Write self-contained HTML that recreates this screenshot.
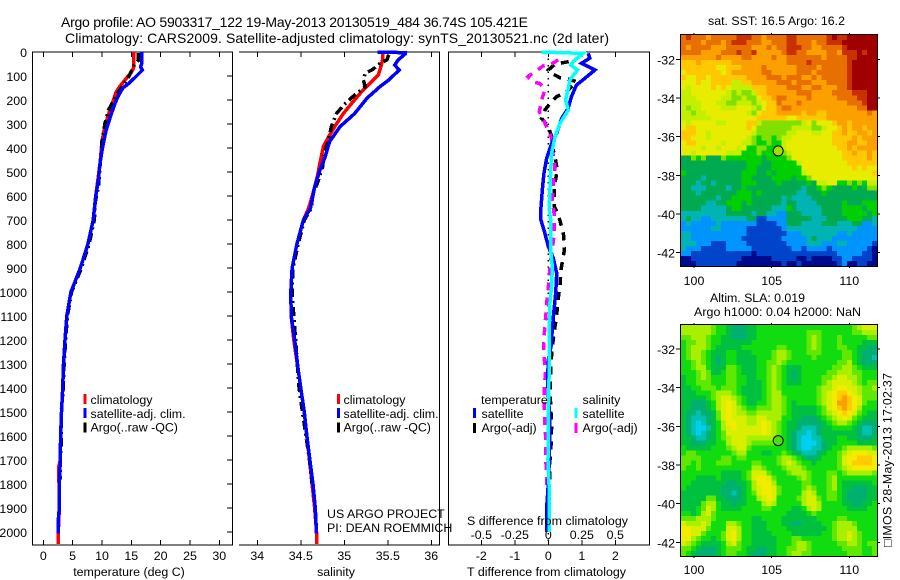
<!DOCTYPE html>
<html>
<head>
<meta charset="utf-8">
<title>Argo profile</title>
<style>
html,body{margin:0;padding:0;background:#fff;}
svg{display:block;}
text{font-family:"Liberation Sans",sans-serif;font-size:12.4px;fill:#000;}
</style>
</head>
<body>
<svg id="chart" xmlns="http://www.w3.org/2000/svg" width="900" height="580" viewBox="0 0 900 580">
<rect width="900" height="580" fill="#fff"/>
<g id="panels"></g>
<g id="labels">
<text x="61" y="27" style="font-size:14px" textLength="467">Argo profile: AO 5903317_122 19-May-2013 20130519_484 36.74S 105.421E</text>
<text x="65" y="43" style="font-size:14px" textLength="544">Climatology: CARS2009. Satellite-adjusted climatology: synTS_20130521.nc (2d later)</text>
<text x="129" y="576" text-anchor="middle">temperature (deg C)</text>
<text x="336" y="576" text-anchor="middle">salinity</text>
<text x="467" y="576" textLength="159">T difference from climatology</text>
<text x="467" y="525" textLength="161">S difference from climatology</text>
<text x="327" y="518">US ARGO PROJECT</text>
<text x="327" y="532">PI: DEAN ROEMMICH</text>
<text x="708" y="25" textLength="137">sat. SST: 16.5 Argo: 16.2</text>
<text x="710" y="302" textLength="95">Altim. SLA: 0.019</text>
<text x="694" y="316" textLength="167">Argo h1000: 0.04 h2000: NaN</text>
<text transform="translate(891.5,547) rotate(-90)" textLength="174">□IMOS 28-May-2013 17:02:37</text>
</g>
<script>
// ---------- shared depth scale ----------
const depthTicks = [0,100,200,300,400,500,600,700,800,900,1000,1100,1200,1300,1400,1500,1600,1700,1800,1900,2000];

// ---------- temperature panel data ----------
const tempTicks = [0,5,10,15,20,25,30];
const climTempDepth = [0,62,83,111,139,167,201,243,292,340,396,465,542,604,700,800,900,1000,1100,1200,1300,1400,1500,1600,1700,1730,1780,1800,1900,2000,2050];
const climTemp = [15.45,15.45,15.06,14.09,13.18,12.39,11.93,11.36,10.68,10.23,9.94,9.66,9.26,8.92,8.5,7.6,6.3,4.7,4.0,3.7,3.45,3.3,3.1,2.95,2.9,2.6,2.6,2.73,2.73,2.56,2.56];
const satTempDepth = [0,49,62,76,107,132,149,181,215,264,326,396,465,535,604,700,800,900,1000,1100,1200,1300,1400,1500,1600,1700,1800,1900,1950,2005];
const satTemp = [16.76,16.76,16.6,16.88,15.6,14.5,13.6,12.8,12.2,11.5,10.7,10.1,9.66,9.38,8.92,8.5,7.6,6.3,4.7,4.0,3.7,3.45,3.3,3.1,2.95,2.9,2.73,2.73,2.56,2.56];
const argoTempDepth = [4,35,55,110,181,243,299,368,465,562,620,700,800,900,1000,1100,1200,1300,1400,1500,1600,1700,1780];
const argoTemp = [16.2,16.2,15.5,14.4,12.4,11.1,10.5,10.0,9.7,9.4,8.9,8.7,7.8,6.5,4.8,4.1,3.8,3.55,3.4,3.05,3.1,2.9,2.9];

// ---------- salinity panel data ----------
const salTicks = [34,34.5,35,35.5,36];
const salTickLabels = ["34","34.5","35","35.5","36"];
const climSalDepth = [0,33,75,96,124,165,207,256,311,353,394,464,519,589,651,700,800,900,1000,1100,1200,1324,1400,1500,1600,1700,1800,1900,2000,2050];
const climSal = [35.44,35.44,35.41,35.39,35.31,35.2,35.1,34.99,34.89,34.82,34.76,34.72,34.69,34.64,34.59,34.53,34.455,34.4,34.385,34.39,34.42,34.47,34.5,34.54,34.57,34.6,34.63,34.66,34.68,34.68];
const satSalDepth = [0,3,8,33,54,75,114,144,193,256,311,374,436,492,561,651,700,800,900,1000,1100,1200,1324,1400,1500,1600,1700,1800,1900,2005];
const satSal = [35.38,35.7,35.7,35.62,35.58,35.63,35.52,35.41,35.26,35.12,34.95,34.83,34.78,34.72,34.66,34.61,34.53,34.455,34.4,34.385,34.39,34.43,34.47,34.5,34.54,34.57,34.605,34.64,34.667,34.68];
const argoSalDepth = [12,33,47,72,89,117,144,179,214,256,311,367,422,478,547,589,651,700,800,900,1000,1100,1200,1300,1350,1400,1500,1600,1700,1800];
const argoSal = [35.51,35.49,35.41,35.33,35.24,35.22,35.24,35.12,35.01,34.91,34.85,34.82,34.77,34.75,34.69,34.64,34.62,34.54,34.47,34.41,34.4,34.42,34.44,34.46,34.47,34.48,34.52,34.56,34.6,34.63];

// ---------- difference panel data ----------
const diffTempTicks = [-2,-1,0,1,2];
const diffSalTicks = [-0.5,-0.25,0,0.25,0.5];
const diffSalTickLabels = ["-0.5","-0.25","0","0.25","0.5"];
const satDiffTempDepth = [6,26,47,75,110,138,186,235,276,339,381,443,506,575,651,699,755,810,859,921,1005,1074,1157,1227,1282,1366,1500,1550,1700,1800,1900,2000];
const satDiffTemp = [1.19,1.24,0.99,1.39,1.09,0.84,0.69,0.59,0.4,0.25,0.1,-0.05,-0.13,-0.18,-0.22,-0.22,-0.1,0,0.15,0.25,0.22,0.17,0.12,0.08,0,-0.02,0.03,0.05,0.03,0,-0.05,-0.05];
const satDiffSalDepth = [0,6,40,54,75,117,151,200,242,297,353,422,506,575,651,699,824,894,977,1046,1171,1366,1500,1700,1800,2000];
const satDiffSal = [-0.05,0.26,0.186,0.168,0.218,0.161,0.149,0.129,0.149,0.087,0.05,0.025,0.017,0.012,0.007,0.017,0.017,0.03,0.025,0.012,0.007,0.005,0,-0.002,0.005,0.005];
const argoDiffTempDepth = [40,51,75,89,107,114,124,165,186,214,242,276,311,353,394,436,492,561,644,678,755,824,907,970,1025,1095,1164,1227,1296,1407,1560,1640,1700,1780,1850];
const argoDiffTemp = [0.61,0.2,0,0.1,0.35,0.64,0.84,0.54,0.25,0.05,-0.1,-0.2,0,0.1,0.12,0.2,0.27,0.18,0.18,0.3,0.45,0.48,0.38,0.35,0.3,0.25,0.18,0.12,0.08,0.05,0.1,0.08,0.05,0.04,0.03];
const argoDiffSalDepth = [33,54,58,82,103,124,131,158,200,249,283,325,360,408,429,478,547,617,678,755,810,894,949,1012,1074,1143,1213,1275,1338,1400,1500,1600,1680,1740,1830];
const argoDiffSal = [0.074,0.012,-0.037,-0.1,-0.153,-0.119,-0.062,-0.025,-0.05,-0.067,-0.037,0,0.025,0.025,0.037,0.05,0.037,0.03,0.045,0.045,0.032,0.012,0.007,-0.007,-0.015,-0.025,-0.035,-0.03,-0.022,-0.03,-0.03,-0.02,-0.02,-0.015,-0.01];

// ---------- map data ----------
const lonTicks = [100,105,110];
const latTicks = [-32,-34,-36,-38,-40,-42];
const floatLon = [105.42];
const floatLat = [-36.74];
// Colour-band index per map cell, north to south
const sstBands = [
[11,12,11,11,11,10,11,11,11,11,11,12,12,12,11,11,10,11,11,11,11,12,12,11,11,11,11,11,11,12,13,12,12,13,13,13,13,13,13],
[11,11,11,11,10,11,11,11,10,11,12,12,12,11,11,11,10,10,11,11,11,12,12,11,11,11,10,11,11,12,12,12,13,13,13,13,13,13,13],
[11,10,11,11,11,11,10,10,10,11,11,11,11,11,10,10,10,11,10,11,11,12,12,12,11,11,10,10,11,11,11,11,12,13,13,13,13,13,13],
[11,11,11,11,10,10,10,10,11,11,11,12,11,11,12,10,10,10,10,10,11,12,12,11,11,10,10,10,10,11,11,10,12,12,12,13,12,13,13],
[10,10,10,10,10,10,10,11,10,10,10,10,11,11,10,10,10,10,11,10,10,11,11,11,11,11,11,11,10,11,11,11,11,12,12,13,13,13,13],
[9,9,9,10,9,9,9,9,9,9,10,10,10,10,10,10,10,10,10,10,10,11,11,11,11,12,11,11,11,11,11,11,11,12,13,13,13,13,13],
[9,9,9,9,9,9,9,8,8,9,9,9,10,10,10,10,11,10,10,10,10,10,10,11,11,11,11,10,11,11,11,11,11,12,13,13,13,13,13],
[8,9,9,9,9,9,9,9,8,9,10,10,10,10,10,10,11,11,10,10,10,10,10,11,11,11,10,11,11,11,11,11,11,12,13,13,13,13,13],
[9,8,8,9,9,8,9,9,9,9,9,9,9,10,10,10,10,11,11,11,10,11,11,11,10,10,11,10,11,11,11,11,11,12,13,13,13,13,13],
[8,8,8,9,8,8,9,9,9,9,7,7,9,9,10,10,10,10,10,11,11,11,10,11,11,11,10,10,10,11,11,11,11,12,13,13,13,13,13],
[8,7,8,8,8,8,9,8,9,8,7,7,7,7,9,9,9,10,10,10,10,11,11,11,10,10,11,11,10,10,10,11,11,12,13,13,13,13,13],
[7,7,8,8,8,8,8,8,8,7,6,7,6,6,7,9,9,10,10,10,10,10,10,11,11,11,10,10,10,10,11,11,11,11,12,12,12,13,13],
[7,7,7,8,8,8,8,8,7,7,6,6,7,6,6,8,9,9,10,11,11,10,10,10,10,11,10,10,10,10,10,11,11,11,11,12,12,13,13],
[7,7,7,7,8,8,8,7,7,6,6,7,7,7,6,7,8,9,9,11,10,10,10,11,10,10,10,10,10,10,10,10,10,11,11,11,12,13,13],
[7,6,7,7,8,8,8,8,7,7,7,8,8,8,7,6,8,9,9,10,11,11,10,10,10,10,10,10,10,10,10,10,10,10,10,11,11,13,13],
[7,7,6,7,7,8,8,8,8,8,8,8,8,7,6,8,9,9,9,10,10,10,10,10,9,10,10,9,9,10,10,10,10,10,10,10,10,11,10],
[7,7,7,7,7,7,8,8,8,8,8,8,8,8,8,9,9,9,9,9,9,8,8,9,9,9,9,9,9,10,10,10,10,10,10,10,10,10,10],
[8,7,8,8,8,8,8,7,7,8,8,8,8,9,9,7,6,6,6,6,6,6,6,6,7,8,6,8,8,8,9,10,10,9,10,10,10,10,10],
[8,9,9,8,8,8,8,8,8,8,8,8,8,9,8,6,6,6,6,6,6,6,7,7,7,7,6,6,7,8,8,9,10,9,10,10,9,10,10],
[9,9,9,8,8,7,8,8,8,8,8,8,8,8,7,6,6,6,6,6,6,7,7,8,8,8,7,7,8,8,9,9,10,9,9,10,10,9,10],
[9,9,8,8,8,7,8,8,8,8,8,8,8,7,6,5,6,6,5,6,7,7,8,8,8,8,8,8,8,8,9,9,9,9,10,9,10,10,10],
[8,9,9,8,8,8,8,8,7,8,8,8,7,7,6,5,5,6,5,5,7,8,8,8,8,8,8,8,8,8,9,9,9,10,10,9,9,10,10],
[8,8,8,8,7,8,8,7,8,8,8,7,8,5,5,6,6,5,5,5,7,8,8,8,8,8,8,8,8,8,8,9,9,10,9,10,10,10,10],
[8,8,7,8,8,8,8,8,8,7,7,7,5,5,5,6,5,5,5,6,6,7,8,8,8,8,8,8,8,8,8,8,9,9,10,9,9,10,9],
[4,4,6,5,6,4,4,4,6,5,5,5,5,5,5,5,4,5,5,5,5,6,8,8,8,8,8,8,8,8,8,8,9,9,9,9,9,10,9],
[4,4,4,4,4,4,4,4,4,4,4,4,4,5,5,5,4,4,5,5,5,5,5,7,8,8,8,8,8,8,8,8,8,9,9,9,9,9,9],
[4,4,4,4,4,4,4,4,4,4,4,4,4,5,5,4,4,4,5,5,5,5,5,5,8,8,8,8,8,8,8,8,8,8,9,8,9,8,8],
[5,4,4,4,4,4,4,4,4,4,4,4,5,5,5,4,4,5,4,5,5,5,5,5,7,8,8,8,8,8,8,8,8,8,8,8,8,8,9],
[4,4,4,4,3,4,4,4,4,4,4,4,5,5,4,4,4,4,5,5,5,5,4,5,5,6,8,8,8,8,8,8,8,8,8,8,8,8,8],
[4,4,4,3,4,4,3,4,4,4,4,4,5,5,5,4,4,4,4,5,4,4,4,4,4,5,4,7,7,8,8,5,5,6,5,6,5,7,7],
[4,4,3,3,3,4,4,4,4,3,4,4,5,4,4,4,4,4,4,4,4,4,4,4,3,4,4,5,6,5,4,4,4,4,5,4,4,6,6],
[4,4,4,3,4,4,4,4,4,4,4,5,5,5,4,5,4,4,4,4,4,4,4,3,3,4,4,4,5,4,4,4,4,4,4,4,4,4,4],
[4,4,4,4,4,4,4,3,4,4,5,5,5,5,4,4,4,4,4,4,3,4,3,3,3,3,4,4,4,4,4,4,4,4,4,4,4,4,4],
[4,4,4,4,4,3,3,4,4,5,5,5,4,5,4,4,4,4,4,4,3,4,4,3,3,3,3,4,4,4,4,4,5,4,4,4,5,5,5],
[4,4,4,4,3,3,3,3,3,4,5,5,4,4,4,4,4,4,3,3,3,5,4,3,3,3,3,3,4,4,4,4,5,5,5,5,4,5,5],
[3,3,3,3,3,3,3,3,3,4,4,4,4,4,3,4,4,3,3,2,2,4,4,4,3,3,3,3,4,4,4,4,5,5,5,5,5,4,5],
[3,4,3,3,2,2,3,3,3,3,3,3,3,4,4,1,1,2,2,2,2,4,4,4,4,4,3,3,3,4,4,4,4,5,5,5,4,4,3],
[2,3,2,2,2,2,2,3,2,2,2,2,2,2,2,1,1,1,1,2,2,4,4,4,3,3,3,3,4,4,4,3,3,3,4,4,2,2,3],
[2,2,2,2,2,2,3,3,2,2,2,2,2,1,1,1,1,1,1,1,2,3,3,3,3,3,3,3,3,3,3,3,3,3,3,2,2,2,2],
[3,3,2,2,2,2,2,2,2,2,2,2,2,1,1,1,1,1,1,1,1,2,2,2,3,3,3,3,3,3,3,2,2,3,2,2,2,2,2],
[3,3,2,2,2,2,2,2,2,2,2,2,1,1,1,1,1,1,1,1,2,2,2,2,2,3,4,3,3,3,2,2,2,2,2,2,2,2,2],
[3,3,3,2,2,2,1,1,1,2,2,2,2,1,1,1,1,1,1,1,1,2,2,2,2,3,3,3,2,2,2,3,3,2,2,2,2,2,1],
[3,2,2,2,1,1,1,1,1,2,2,2,2,2,1,1,1,1,1,1,1,1,2,2,1,2,2,2,2,1,2,2,2,2,2,2,2,1,0],
[2,2,1,1,1,1,1,1,1,1,1,1,1,1,0,1,1,1,1,1,1,1,1,1,1,1,1,1,1,1,1,2,2,2,2,2,1,1,0],
[0,0,1,1,1,1,1,1,1,1,1,1,0,0,0,0,0,0,1,1,1,1,1,0,0,1,0,0,0,0,1,1,2,2,1,1,1,1,0],
[0,0,0,1,1,1,1,1,1,1,1,0,0,0,0,0,0,0,0,0,1,0,0,1,0,0,0,0,0,0,0,1,2,0,0,1,1,0,0]
];
const slaBands = [
[6,6,6,6,6,6,5,4,4,3,2,2,2,3,3,4,4,4,4,4,4,4,4,4,4,4,4,4,4,4,4,4,4,4,5,6,7,7,7],
[6,6,6,6,6,6,5,4,4,3,2,2,2,3,3,4,4,4,4,4,4,4,4,4,4,5,5,5,4,4,4,4,4,4,5,5,6,6,6],
[5,5,6,6,6,5,4,4,3,3,2,2,2,3,3,4,4,4,4,4,4,4,4,4,4,5,6,5,4,4,4,5,4,4,4,4,4,5,5],
[4,5,5,6,6,5,4,4,3,3,3,3,3,3,4,4,4,4,4,4,4,4,4,4,4,5,6,5,4,4,4,5,4,4,4,4,3,3,3],
[4,5,6,6,6,5,4,3,3,3,3,3,4,4,4,4,4,4,4,5,5,4,4,4,4,5,6,5,4,4,4,5,5,4,4,3,3,2,2],
[4,5,6,6,5,4,3,3,3,4,4,3,3,3,4,4,4,4,5,6,6,5,4,4,4,5,5,5,4,4,4,4,5,5,4,3,2,2,2],
[4,5,6,6,5,4,3,2,3,4,4,3,3,3,3,4,4,4,5,6,6,5,4,4,4,4,5,4,4,4,4,4,5,5,4,3,2,2,1],
[4,4,5,6,5,4,3,2,3,4,4,3,3,3,3,4,4,5,5,6,5,4,4,4,4,4,4,4,4,4,4,5,5,6,4,3,2,2,2],
[4,4,5,6,6,4,3,3,3,5,5,4,3,3,3,4,4,5,6,5,4,3,3,3,4,4,4,4,4,4,5,5,6,6,5,4,3,3,3],
[4,4,4,5,6,5,3,3,4,5,5,4,3,3,3,4,4,5,6,5,4,3,2,3,4,4,4,4,4,5,5,6,6,6,5,5,4,4,4],
[3,4,4,5,6,5,4,4,4,5,5,4,4,3,3,4,4,5,6,5,4,3,2,3,4,4,4,4,5,5,6,7,7,6,6,5,4,4,4],
[3,4,4,5,5,5,4,4,4,5,5,4,4,3,3,3,4,5,6,5,4,3,3,3,4,4,4,4,5,6,7,7,7,7,6,5,4,5,5],
[3,3,4,4,5,5,5,4,5,5,5,4,3,3,3,3,4,5,6,5,4,4,4,4,4,4,4,5,6,6,7,8,8,7,7,6,5,5,6],
[3,3,3,4,4,4,5,6,6,6,5,4,3,3,3,3,4,5,6,6,4,4,4,4,4,4,4,5,6,7,8,9,9,8,7,6,5,5,5],
[3,3,3,3,3,4,5,6,7,7,6,5,4,3,3,3,4,5,6,6,5,4,4,4,4,4,4,5,6,7,8,9,10,9,8,7,5,5,5],
[3,3,2,2,2,3,4,6,7,8,7,5,4,3,3,4,4,5,6,6,5,4,3,4,4,4,4,5,6,7,8,10,10,9,8,7,5,4,4],
[3,3,2,2,2,3,4,6,7,8,7,6,5,4,4,5,5,5,6,6,5,4,3,3,3,3,3,4,5,7,8,9,10,9,8,6,4,4,4],
[3,2,2,1,2,2,3,5,7,8,7,6,6,5,5,6,6,6,6,6,5,4,3,3,3,3,3,4,5,6,7,8,9,8,7,5,4,3,3],
[3,2,1,1,1,2,3,5,7,8,7,7,7,6,6,7,7,6,6,6,4,4,3,3,2,2,2,3,4,5,6,7,8,7,5,4,3,3,3],
[3,2,1,0,1,2,3,4,6,8,8,7,7,6,6,7,8,7,6,5,4,3,3,2,2,2,2,2,3,4,5,6,6,5,4,3,2,2,2],
[3,2,1,0,0,1,3,4,6,7,8,7,7,7,7,7,8,7,6,5,4,3,3,2,1,1,1,2,3,3,4,4,4,4,3,2,1,1,2],
[3,2,1,0,1,2,3,4,5,7,7,7,7,7,7,7,8,7,6,5,4,3,2,1,1,0,1,2,3,3,3,3,3,3,3,2,1,1,2],
[3,3,2,1,1,2,3,4,5,6,7,7,7,6,6,6,6,6,6,5,4,3,2,1,0,0,1,1,3,3,3,4,4,3,3,2,2,2,3],
[3,3,2,2,2,3,3,4,4,6,7,7,7,6,5,5,5,5,5,4,4,3,2,1,0,0,0,1,2,3,3,4,4,4,4,3,3,3,3],
[4,3,3,3,3,3,4,4,4,5,6,7,7,5,4,4,4,4,4,4,4,3,2,1,0,0,1,1,2,3,4,4,5,6,6,6,6,6,5],
[4,5,5,4,4,4,4,4,4,4,5,6,6,4,4,4,3,3,4,4,5,4,3,2,1,1,1,2,3,4,4,5,6,7,8,8,8,7,7],
[5,5,5,5,4,4,4,4,5,5,4,5,5,4,4,4,4,4,4,5,6,6,5,4,3,2,2,3,4,4,4,5,7,8,8,9,9,9,8],
[5,5,4,5,4,4,4,5,5,5,4,4,4,4,5,5,4,4,4,5,6,7,6,5,4,4,3,4,4,4,4,5,7,8,9,9,9,9,8],
[5,4,4,5,4,4,4,4,4,4,4,4,4,4,6,6,5,4,4,4,5,6,6,6,5,4,4,4,4,4,4,5,6,7,8,8,8,8,8],
[4,4,4,4,4,4,4,4,3,3,3,3,4,5,7,7,7,5,4,4,4,5,6,6,6,5,4,4,4,5,5,4,5,6,6,6,6,6,5],
[4,4,4,3,3,3,3,4,3,3,3,3,4,5,7,8,8,7,5,4,4,4,4,5,6,5,4,4,4,5,6,4,4,4,4,4,4,4,4],
[4,4,3,3,3,3,3,3,3,2,2,3,3,4,6,8,8,8,6,4,4,4,4,4,5,5,4,4,4,5,6,4,3,3,3,3,3,3,4],
[4,3,3,3,3,3,3,3,2,2,2,2,3,4,6,7,8,8,7,5,4,4,4,4,5,6,5,4,4,5,6,4,3,3,2,2,2,3,3],
[3,3,3,3,3,3,3,3,2,2,1,2,3,4,5,7,8,8,7,5,4,4,4,4,6,7,6,4,4,5,5,4,3,2,2,2,2,3,3],
[3,3,3,3,3,5,5,3,3,2,2,2,3,4,4,6,7,8,7,4,4,4,4,5,6,7,7,5,4,5,5,4,3,2,2,2,2,3,3],
[3,3,3,3,5,6,6,4,3,3,2,3,3,4,4,4,6,7,6,4,4,4,4,4,6,7,7,6,4,4,4,4,3,3,2,2,3,3,4],
[3,3,3,4,5,7,6,4,3,3,3,3,4,4,4,4,5,5,4,4,4,4,3,3,4,6,7,6,4,4,4,4,4,3,3,3,3,4,4],
[4,4,3,4,6,7,5,4,4,4,4,4,4,4,4,4,4,4,4,4,4,3,3,3,3,4,5,4,4,4,4,4,4,4,4,4,4,4,4],
[5,5,5,6,6,6,5,4,4,4,4,4,4,4,3,3,4,4,4,4,3,3,3,3,3,3,3,4,4,4,4,5,5,4,4,4,4,4,4],
[7,6,6,6,7,6,4,4,4,6,6,5,4,4,3,3,3,4,4,4,3,3,2,2,3,3,3,3,4,4,5,6,6,6,5,4,4,4,4],
[8,8,7,7,7,5,4,4,4,7,7,6,4,4,3,3,3,4,4,4,4,3,3,3,3,3,3,3,3,4,5,6,6,6,6,4,4,4,4],
[8,8,7,7,5,4,4,4,5,7,8,6,4,4,3,3,3,3,4,4,4,4,3,3,3,3,3,3,4,4,5,6,6,7,6,5,4,4,4],
[8,8,6,5,4,4,3,4,5,7,8,6,4,4,3,3,3,3,3,4,4,4,5,5,4,4,4,4,4,4,5,6,6,7,6,5,4,4,4],
[7,6,5,4,3,3,3,3,4,6,7,5,4,4,3,3,3,3,3,4,4,4,5,6,6,5,4,4,4,4,4,5,5,6,6,5,4,5,5],
[5,5,4,3,2,2,2,3,4,5,5,5,4,3,3,2,2,3,3,4,4,5,5,6,6,5,4,4,4,4,4,4,5,5,5,5,4,4,5],
[5,4,3,2,2,2,2,3,4,5,5,4,4,3,2,2,2,3,3,4,4,5,6,6,5,5,4,4,4,4,4,4,4,5,5,5,4,4,5]
];
const sstColors = ["#000a8c","#0044cc","#0094ff","#00b4b4","#00aa50","#00d000","#80e000","#c4f000","#e8ec00","#ffc800","#fca000","#e87000","#c83000","#a00000"];
const slaColors = ["#00d0f0","#00c0b0","#00b070","#00c040","#10dc10","#60e800","#a8f000","#d8f000","#f4ec00","#ffcc00","#f8a000"];

// ---------- axis scale functions ----------
const yDepth = d => 52 + d * 0.2401;
const xTemp = t => 43.3 + t * 5.867;
const xSal = s => 257.3 + (s - 34) * 87;
const xDiffT = t => 548.3 + t * 33.5;
const xDiffS = s => 548.3 + s * 134;
const xLon = lon => 694 + (lon - 100) * 15.53;
const ySst = lat => 59.3 + (-32 - lat) * 19.33;
const ySla = lat => 349 + (-32 - lat) * 19.33;

const NS = "http://www.w3.org/2000/svg";
const root = document.getElementById("panels");
function make(tag, attrs, parent) {
  const el = document.createElementNS(NS, tag);
  for (const k in attrs) el.setAttribute(k, attrs[k]);
  (parent || root).appendChild(el);
  return el;
}
function line(x1, y1, x2, y2, parent) {
  const el = make("line", {x1: x1, y1: y1, x2: x2, y2: y2, stroke: "#000", "stroke-width": 1, "shape-rendering": "crispEdges"}, parent);
  
  
  return el;
}
function label(str, x, y, anchor, parent) {
  const el = make("text", {x: x, y: y, "text-anchor": anchor || "start"}, parent);
  el.textContent = str;
  
  
  return el;
}
function profile(name, depths, values, xf, color, dash, width) {
  const pts = depths.map((d, i) => xf(values[i]).toFixed(1) + "," + yDepth(d).toFixed(1)).join(" ");
  const el = make("polyline", {points: pts, fill: "none", stroke: color, "stroke-width": width || 3.5, "stroke-dasharray": dash || "none", "shape-rendering": "crispEdges"});
  
  
}
function swatch(name, x, y, color) {
  const el = make("rect", {x: x, y: y, width: 3, height: 10, fill: color, "shape-rendering": "crispEdges"});
  
  
}

// ---------- profile panel frames ----------
const pTop = 52, pBot = 545;
// temperature frame
line(32.5, pTop, 32.5, pBot); line(232.5, pTop, 232.5, pBot); line(32, pTop, 233, pTop); line(32, pBot, 233, pBot);
depthTicks.forEach(d => {
  line(227, yDepth(d), 232, yDepth(d));
  label(String(d), 27, yDepth(d) + 5, "end");
});
tempTicks.forEach(t => {
  line(xTemp(t), pTop, xTemp(t), pTop + 5);
  line(xTemp(t), pBot, xTemp(t), pBot - 5);
  label(String(t), xTemp(t), 560, "middle");
});
// salinity frame
line(239, pTop, 440, pTop); line(239, pBot, 440, pBot); line(439.5, pTop, 439.5, pBot);
salTicks.forEach((s, i) => {
  line(xSal(s), pTop, xSal(s), pTop + 5);
  line(xSal(s), pBot, xSal(s), pBot - 5);
  label(salTickLabels[i], xSal(s), 560, "middle");
});
// difference frame
line(448.5, pTop, 448.5, pBot); line(649.5, pTop, 649.5, pBot); line(448, pTop, 650, pTop); line(448, pBot, 650, pBot);
diffTempTicks.forEach(t => {
  line(xDiffT(t), pTop, xDiffT(t), pTop + 5);
  line(xDiffT(t), pBot, xDiffT(t), pBot - 5);
  label(String(t), xDiffT(t), 560, "middle");
});
diffSalTicks.forEach((s, i) => {
  label(diffSalTickLabels[i], xDiffS(s), 539, "middle");
});

// ---------- zero reference ----------
const zeroLine = make("line", {x1: xDiffT(0), y1: yDepth(0), x2: xDiffT(0), y2: yDepth(2050), stroke: "#000", "stroke-width": 1.5, "stroke-dasharray": "1.5 5"});



// ---------- profile series ----------
const dashDot = "9 4 2 4", dashed = "8 7";
profile("temperature-climatology-line", climTempDepth, climTemp, xTemp, "#ff0000");
profile("temperature-argo-line", argoTempDepth, argoTemp, xTemp, "#000000", dashDot);
profile("temperature-satellite-line", satTempDepth, satTemp, xTemp, "#0000ff");
profile("salinity-climatology-line", climSalDepth, climSal, xSal, "#ff0000");
profile("salinity-argo-line", argoSalDepth, argoSal, xSal, "#000000", dashDot);
profile("salinity-satellite-line", satSalDepth, satSal, xSal, "#0000ff");
profile("t-difference-argo-line", argoDiffTempDepth, argoDiffTemp, xDiffT, "#000000", dashed);
profile("s-difference-argo-line", argoDiffSalDepth, argoDiffSal, xDiffS, "#ff00ff", dashed);
profile("t-difference-satellite-line", satDiffTempDepth, satDiffTemp, xDiffT, "#0000ff");
profile("s-difference-satellite-line", satDiffSalDepth, satDiffSal, xDiffS, "#00ffff");

// ---------- legends ----------
swatch("legend-climatology-swatch", 83.5, 394, "#ff0000");
label("climatology", 90.5, 404);
swatch("legend-satellite-swatch", 83.5, 408, "#0000ff");
label("satellite-adj. clim.", 90.5, 418);
swatch("legend-argo-swatch", 83.5, 422.5, "#000000");
label("Argo(..raw -QC)", 90.5, 431.5);
swatch("legend-climatology-swatch", 337, 394, "#ff0000");
label("climatology", 343.5, 404);
swatch("legend-satellite-swatch", 337, 408, "#0000ff");
label("satellite-adj. clim.", 343.5, 418);
swatch("legend-argo-swatch", 337, 422.5, "#000000");
label("Argo(..raw -QC)", 343.5, 431.5);
label("temperature", 481, 404);
swatch("legend-t-satellite-swatch", 473, 408, "#0000ff");
label("satellite", 481.5, 418);
swatch("legend-t-argo-swatch", 473, 423, "#000000");
label("Argo(-adj)", 481.5, 432);
label("salinity", 582.5, 404);
swatch("legend-s-satellite-swatch", 574.5, 408, "#00ffff");
label("satellite", 582.5, 418);
swatch("legend-s-argo-swatch", 574.5, 423, "#ff00ff");
label("Argo(-adj)", 582.5, 432);

// ---------- maps ----------
function drawMap(name, bands, colors, top, bottom, yLat, markerFill, labelBase) {
  const left = 681, right = 877, cw = (right - left) / 39, ch = (bottom - top) / 46;
  const group = make("g", {"shape-rendering": "crispEdges"});
  
  
  bands.forEach((row, r) => row.forEach((v, c) => {
    const cell = make("rect", {x: left + c * cw, y: top + r * ch, width: cw + 0.5, height: ch + 0.5, fill: colors[v]}, group);
    
    
  }));
  line(680.5, top - 1, 680.5, bottom + 1); line(877.5, top - 1, 877.5, bottom + 1);
  line(680, top - 0.5, 878, top - 0.5); line(680, bottom + 0.5, 878, bottom + 0.5);
  lonTicks.forEach(lon => {
    line(xLon(lon), top - 2, xLon(lon), top);
    line(xLon(lon), bottom, xLon(lon), bottom + 2);
    label(String(lon), xLon(lon), labelBase, "middle");
  });
  latTicks.forEach(lat => {
    line(676, yLat(lat), 680, yLat(lat));
    line(877, yLat(lat), 880, yLat(lat));
    label(String(lat), 675, yLat(lat) + 5, "end");
  });
  const marker = make("circle", {cx: xLon(floatLon[0]), cy: yLat(floatLat[0]), r: 5, fill: markerFill, stroke: "#000", "stroke-width": 1});
  
  
}
drawMap("sst-map", sstBands, sstColors, 35, 266, ySst, "#a0e000", 285);
drawMap("sla-map", slaBands, slaColors, 325, 556, ySla, "#50dd10", 574);
</script>
</svg>
</body>
</html>
